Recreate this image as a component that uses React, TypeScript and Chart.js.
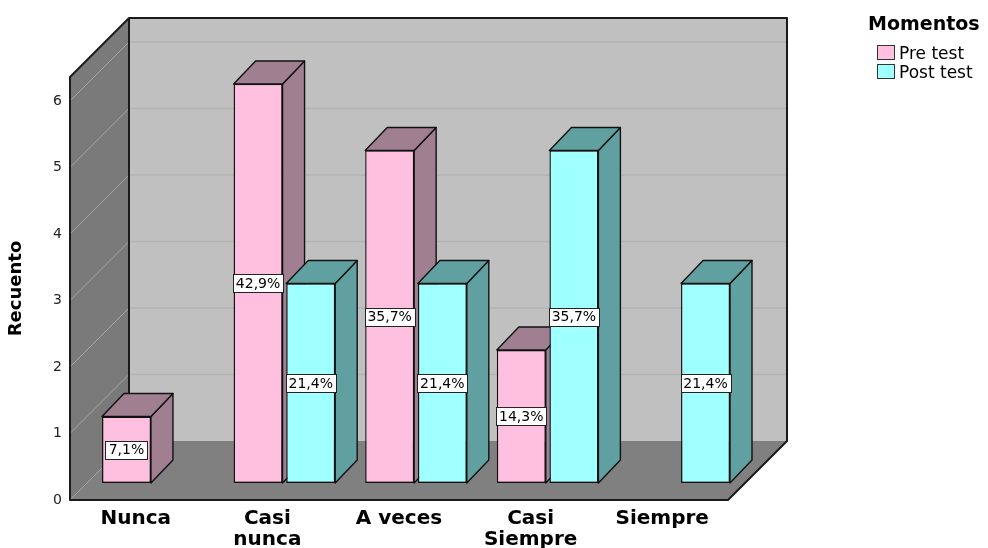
import React, { useEffect, useRef } from "react";
import { Chart, registerables } from "chart.js";

Chart.register(...registerables);

// Chart data
const categories: (string | string[])[] = ["Nunca", ["Casi", "nunca"], "A veces", ["Casi", "Siempre"], "Siempre"];
const seriesNames = ["Pre test", "Post test"];
const preTest = [1, 6, 5, 2, 0];
const postTest = [0, 3, 3, 5, 3];
const yTicks = [0, 1, 2, 3, 4, 5, 6];
const yMax = 6.36;
const yTitle = "Recuento";
const legendTitle = "Momentos";

// Styling
const FONT = "'DejaVu Sans', 'Liberation Sans', sans-serif";
const frontColors = ["#ffc0e0", "#a0ffff"];
const shadeColors = ["#a08090", "#60a0a0"];
const WALL_DEPTH = 59; // depth of the box drawn behind the plot
const BAR_SHIFT_X = 17; // bars stand a little inside the floor
const BAR_SHIFT_Y = -17;
const BAR_DEPTH_X = 22;
const BAR_DEPTH_Y = -23;

type Pt = [number, number];

function fillPoly(ctx: CanvasRenderingContext2D, pts: Pt[], fill: string, stroke?: string, lw = 1) {
  ctx.beginPath();
  ctx.moveTo(pts[0][0], pts[0][1]);
  for (let i = 1; i < pts.length; i++) ctx.lineTo(pts[i][0], pts[i][1]);
  ctx.closePath();
  ctx.fillStyle = fill;
  ctx.fill();
  if (stroke) {
    ctx.strokeStyle = stroke;
    ctx.lineWidth = lw;
    ctx.lineJoin = "round";
    ctx.stroke();
  }
}

function line(ctx: CanvasRenderingContext2D, x1: number, y1: number, x2: number, y2: number, color: string, lw = 1) {
  ctx.beginPath();
  ctx.moveTo(x1, y1);
  ctx.lineTo(x2, y2);
  ctx.strokeStyle = color;
  ctx.lineWidth = lw;
  ctx.stroke();
}

function pctLabel(v: number, total: number) {
  return ((v / total) * 100).toFixed(1).replace(".", ",") + "%";
}

// Back wall, left wall, floor and their grid lines
const roomPlugin = {
  id: "room",
  beforeDraw(chart: any) {
    const { ctx, chartArea: a } = chart;
    const ys = chart.scales.y;
    const D = WALL_DEPTH;
    ctx.save();
    ctx.fillStyle = "#c0c0c0";
    ctx.fillRect(a.left + D, a.top - D, a.right - a.left, a.bottom - a.top);
    fillPoly(ctx, [[a.left, a.bottom], [a.right, a.bottom], [a.right + D, a.bottom - D], [a.left + D, a.bottom - D]], "#808080");
    fillPoly(ctx, [[a.left, a.bottom], [a.left, a.top], [a.left + D, a.top - D], [a.left + D, a.bottom - D]], "#7a7a7a");
    for (const v of yTicks) {
      const py = ys.getPixelForValue(v);
      line(ctx, a.left, py, a.left + D, py - D, "#a6a6a6", 1);
      if (v > 0) line(ctx, a.left + D, py - D, a.right + D, py - D, "#b3b3b3", 1.5);
    }
    ctx.beginPath();
    ctx.moveTo(a.left, a.bottom);
    ctx.lineTo(a.left, a.top);
    ctx.lineTo(a.left + D, a.top - D);
    ctx.lineTo(a.right + D, a.top - D);
    ctx.lineTo(a.right + D, a.bottom - D);
    ctx.lineTo(a.right, a.bottom);
    ctx.closePath();
    ctx.strokeStyle = "#1a1a1a";
    ctx.lineWidth = 2;
    ctx.lineJoin = "round";
    ctx.stroke();
    line(ctx, a.left + D, a.top - D, a.left + D, a.bottom - D, "#1a1a1a", 2);
    ctx.restore();
  },
};

// Side and top faces of each bar; the front faces are drawn by Chart.js, shifted into the room
const barBoxPlugin = {
  id: "barBox",
  beforeDatasetsDraw(chart: any) {
    const { ctx } = chart;
    ctx.save();
    const n = categories.length;
    for (let i = 0; i < n; i++) {
      chart.data.datasets.forEach((ds: any, d: number) => {
        const v = ds.data[i];
        if (!v) return;
        const el = chart.getDatasetMeta(d).data[i];
        const { x, y, base, width } = el.getProps(["x", "y", "base", "width"], true);
        const l = x - width / 2 + BAR_SHIFT_X;
        const r = x + width / 2 + BAR_SHIFT_X;
        const t = y + BAR_SHIFT_Y;
        const b = base + BAR_SHIFT_Y;
        const shade = shadeColors[d];
        fillPoly(ctx, [[r, t], [r + BAR_DEPTH_X, t + BAR_DEPTH_Y], [r + BAR_DEPTH_X, b + BAR_DEPTH_Y], [r, b]], shade, "#111", 1.4);
        fillPoly(ctx, [[l, t], [l + BAR_DEPTH_X, t + BAR_DEPTH_Y], [r + BAR_DEPTH_X, t + BAR_DEPTH_Y], [r, t]], shade, "#111", 1.4);
      });
    }
    ctx.restore();
    ctx.save();
    ctx.translate(BAR_SHIFT_X, BAR_SHIFT_Y);
  },
  afterDatasetsDraw(chart: any) {
    const { ctx } = chart;
    ctx.restore();
    // percentage labels in the middle of each bar
    ctx.save();
    ctx.font = `14px ${FONT}`;
    ctx.textAlign = "center";
    ctx.textBaseline = "middle";
    chart.data.datasets.forEach((ds: any, d: number) => {
      const total = ds.data.reduce((s: number, v: number) => s + v, 0);
      ds.data.forEach((v: number, i: number) => {
        if (!v) return;
        const el = chart.getDatasetMeta(d).data[i];
        const { x, y, base } = el.getProps(["x", "y", "base"], true);
        const cx = x + BAR_SHIFT_X;
        const cy = (y + base) / 2 + BAR_SHIFT_Y;
        const text = pctLabel(v, total);
        const w = Math.round(ctx.measureText(text).width + 6);
        const h = 18;
        const bx = Math.round(cx - w / 2) + 0.5;
        const by = Math.round(cy - h / 2) + 0.5;
        ctx.fillStyle = "#ffffff";
        ctx.fillRect(bx, by, w, h);
        ctx.strokeStyle = "#222";
        ctx.lineWidth = 1;
        ctx.strokeRect(bx, by, w, h);
        ctx.fillStyle = "#000";
        ctx.fillText(text, cx, cy + 1);
      });
    });
    ctx.restore();
  },
};

// Legend at the top right
const legendPlugin = {
  id: "momentosLegend",
  afterDraw(chart: any) {
    const { ctx } = chart;
    ctx.save();
    ctx.fillStyle = "#000";
    ctx.textAlign = "left";
    ctx.textBaseline = "alphabetic";
    ctx.font = `bold 19px ${FONT}`;
    ctx.fillText(legendTitle, 868, 30);
    ctx.font = `17px ${FONT}`;
    chart.data.datasets.forEach((ds: any, d: number) => {
      const top = 45 + d * 19;
      ctx.fillStyle = ds.backgroundColor;
      ctx.fillRect(877.5, top + 0.5, 17, 14);
      ctx.strokeStyle = "#333";
      ctx.lineWidth = 1;
      ctx.strokeRect(877.5, top + 0.5, 17, 14);
      ctx.fillStyle = "#000";
      ctx.fillText(ds.label, 899, top + 14);
    });
    ctx.restore();
  },
};

export default function App() {
  const canvasRef = useRef<HTMLCanvasElement | null>(null);

  useEffect(() => {
    const canvas = canvasRef.current;
    if (!canvas) return;
    const barStyle = { borderColor: "#111", borderWidth: 1.4, borderSkipped: false, clip: false };
    const chart = new Chart(canvas, {
      type: "bar",
      data: {
        labels: categories,
        datasets: [
          { label: seriesNames[0], data: preTest, backgroundColor: frontColors[0], ...barStyle } as any,
          { label: seriesNames[1], data: postTest, backgroundColor: frontColors[1], ...barStyle } as any,
        ],
      },
      options: {
        responsive: false,
        devicePixelRatio: 1,
        animation: false,
        events: [],
        layout: { padding: { top: 77, right: 260, bottom: 0, left: 0 } },
        datasets: { bar: { categoryPercentage: 0.8, barPercentage: 0.93 } },
        plugins: { legend: { display: false }, tooltip: { enabled: false }, title: { display: false } },
        scales: {
          x: {
            type: "category",
            grid: { display: false, drawTicks: false },
            border: { display: false },
            ticks: {
              color: "#000",
              font: { family: FONT, size: 20, weight: "bold", lineHeight: 1.05 },
              padding: 8,
              maxRotation: 0,
              autoSkip: false,
            },
            afterFit: (s: any) => {
              s.height = 48;
            },
          },
          y: {
            min: 0,
            max: yMax,
            grid: { display: false, drawTicks: false },
            border: { display: false },
            afterBuildTicks: (s: any) => {
              s.ticks = yTicks.map((v) => ({ value: v }));
            },
            ticks: {
              color: "#222",
              font: { family: FONT, size: 14 },
              padding: 8,
            },
            title: {
              display: true,
              text: yTitle,
              color: "#000",
              font: { family: FONT, size: 18, weight: "bold" },
              padding: { top: 6, bottom: 0 },
            },
            afterFit: (s: any) => {
              s.width = 70;
            },
          },
        },
      } as any,
      plugins: [roomPlugin, barBoxPlugin, legendPlugin],
    });
    return () => chart.destroy();
  }, []);

  return (
    <div style={{ position: "absolute", left: 0, top: 0, width: 988, height: 548, background: "#fff" }}>
      <canvas ref={canvasRef} width={988} height={548} style={{ display: "block" }} />
    </div>
  );
}
